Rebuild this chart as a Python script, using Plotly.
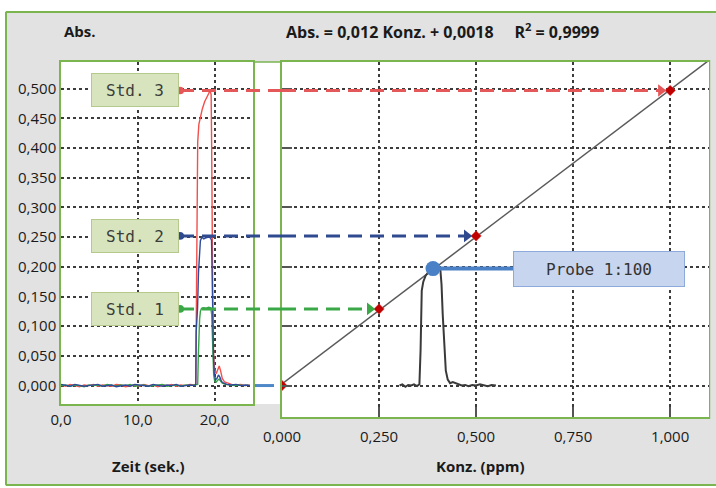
import numpy as np
import plotly.graph_objects as go

# ---------------- data ----------------
# chromatograms (time in s, absorbance)
red_t = [0.0, 0.6, 1.2, 1.8, 2.4, 3.0, 3.6, 4.2, 4.8, 5.4, 6.0, 6.6, 7.2, 7.8, 8.4, 9.0, 9.6, 10.2,
         10.8, 11.4, 12.0, 12.6, 13.2, 13.8, 14.4, 15.0, 15.6, 16.2, 16.8, 17.4,
         17.55, 17.62, 17.7, 17.8, 17.95, 18.15, 18.4, 18.7, 18.95, 19.2, 19.4, 19.55, 19.62, 19.7,
         19.78, 19.88, 20.0, 20.2, 20.4, 20.6, 20.8, 21.0, 21.3, 21.7, 22.2, 22.8, 23.4, 24.0, 24.6]
red_a = [0.001, -0.001, 0.002, 0.000, -0.002, 0.001, 0.000, 0.002, -0.001, 0.001, 0.000, -0.001,
         0.002, 0.001, -0.002, 0.000, 0.001, -0.001, 0.002, 0.000, 0.001, -0.002, 0.001, 0.000,
         0.002, -0.001, 0.001, 0.000, 0.002, 0.001,
         0.003, 0.12, 0.33, 0.41, 0.44, 0.452, 0.466, 0.478, 0.486, 0.491, 0.497, 0.490, 0.40, 0.22,
         0.10, 0.05, 0.028, 0.02, 0.027, 0.033, 0.024, 0.012, 0.006, 0.004, 0.002, 0.001, 0.002,
         0.000, 0.001]

green_t = [0.0, 0.6, 1.2, 1.8, 2.4, 3.0, 3.6, 4.2, 4.8, 5.4, 6.0, 6.6, 7.2, 7.8, 8.4, 9.0, 9.6, 10.2,
           10.8, 11.4, 12.0, 12.6, 13.2, 13.8, 14.4, 15.0, 15.6, 16.2, 16.8, 17.4,
           17.8, 17.88, 17.95, 18.05, 18.15, 18.3, 18.6, 18.9, 19.2, 19.5, 19.62, 19.7, 19.78, 19.88,
           20.0, 20.2, 20.4, 20.6, 20.8, 21.0, 21.4, 22.0, 22.6, 23.2, 23.8, 24.4]
green_a = [0.000, 0.001, -0.001, 0.001, 0.000, -0.002, 0.001, 0.000, 0.001, -0.001, 0.002, 0.000,
           -0.001, 0.001, 0.000, 0.002, -0.001, 0.000, 0.001, -0.001, 0.000, 0.001, 0.002, -0.001,
           0.000, 0.001, -0.001, 0.001, 0.000, 0.001,
           0.002, 0.05, 0.09, 0.112, 0.125, 0.13, 0.131, 0.13, 0.132, 0.131, 0.12, 0.08, 0.04, 0.018,
           0.008, 0.006, 0.009, 0.011, 0.007, 0.004, 0.002, 0.001, 0.000, 0.001, 0.000, 0.001]

blue_t = [0.0, 0.6, 1.2, 1.8, 2.4, 3.0, 3.6, 4.2, 4.8, 5.4, 6.0, 6.6, 7.2, 7.8, 8.4, 9.0, 9.6, 10.2,
          10.8, 11.4, 12.0, 12.6, 13.2, 13.8, 14.4, 15.0, 15.6, 16.2, 16.8, 17.4,
          17.55, 17.6, 17.68, 17.78, 17.9, 18.0, 18.15, 18.35, 18.6, 18.9, 19.2, 19.45, 19.6, 19.68,
          19.76, 19.85, 19.95, 20.1, 20.3, 20.5, 20.7, 20.9, 21.2, 21.6, 22.2, 22.8, 23.4, 24.0, 24.6]
blue_a = [0.002, 0.000, -0.001, 0.002, 0.001, -0.001, 0.000, 0.001, 0.002, -0.001, 0.000, 0.001,
          -0.002, 0.000, 0.001, -0.001, 0.002, 0.001, 0.000, -0.001, 0.002, 0.000, -0.001, 0.001,
          0.000, 0.002, -0.001, 0.000, 0.001, 0.000,
          0.002, 0.09, 0.105, 0.13, 0.19, 0.225, 0.244, 0.25, 0.247, 0.249, 0.25, 0.249, 0.245, 0.19,
          0.11, 0.05, 0.022, 0.01, 0.012, 0.018, 0.014, 0.007, 0.004, 0.002, 0.001, 0.002, 0.000,
          0.001, 0.000]

# calibration standards (ppm, absorbance)
std_conc = [0.0, 0.25, 0.5, 1.0]
std_abs = [0.0, 0.129, 0.252, 0.497]
std_labels = ["Std. 1", "Std. 2", "Std. 3"]
std_colors = ["#3aa846", "#2f4a8f", "#e5585a"]

# sample peak, drawn on the concentration panel
probe_x = [0.303, 0.31, 0.318, 0.325, 0.333, 0.34, 0.348, 0.354, 0.357, 0.36, 0.364, 0.37, 0.378,
           0.386, 0.395, 0.403, 0.408, 0.411, 0.414, 0.418, 0.422, 0.427, 0.433, 0.44, 0.447, 0.455,
           0.463, 0.472, 0.48, 0.49, 0.5, 0.51, 0.52, 0.53, 0.54, 0.551]
probe_y = [0.0, 0.002, -0.002, 0.001, 0.0, 0.002, -0.001, 0.002, 0.06, 0.16, 0.175, 0.185, 0.192,
           0.197, 0.2, 0.199, 0.195, 0.17, 0.12, 0.06, 0.025, 0.01, 0.004, 0.006, 0.004, 0.002,
           0.0, 0.001, -0.001, 0.001, 0.0, 0.002, 0.0, -0.001, 0.001, 0.0]
probe_conc = 0.389
probe_abs = 0.197
probe_label = "Probe 1:100"

time_ticks = [0, 10, 20]
conc_ticks = [0.0, 0.25, 0.5, 0.75, 1.0]

title_y = "Abs."
title_eq = "Abs. = 0,012 Konz. + 0,0018&nbsp;&nbsp;&nbsp;&nbsp; R<sup>2</sup> = 0,9999"
title_x1 = "Zeit (sek.)"
title_x2 = "Konz. (ppm)"

# ---------------- figure ----------------
W, H = 716, 488
GREEN = "#7ab550"
GREY_BG = "#e2e2e2"
GRID = "#3c3c3c"
TXT = "#1a1a1a"
FONT = "Open Sans, Noto Sans, sans-serif"
MONO = "DejaVu Sans Mono, monospace"
ARROW_BLUE = "#4f88c8"

def px(v):
    return v / W

def py(v):
    return 1 - v / H

fig = go.Figure()

fig.add_trace(go.Scatter(x=red_t, y=red_a, mode="lines", xaxis="x", yaxis="y",
                         line=dict(color="#f2504c", width=1.4)))
fig.add_trace(go.Scatter(x=green_t, y=green_a, mode="lines", xaxis="x", yaxis="y",
                         line=dict(color="#34a444", width=1.4)))
fig.add_trace(go.Scatter(x=blue_t, y=blue_a, mode="lines", xaxis="x", yaxis="y",
                         line=dict(color="#2f4a9c", width=1.4)))

# regression line
x2_range = [0.0, 1.1]
slope, icpt = np.polyfit(std_conc, std_abs, 1)
fit_x = np.array(x2_range)
fig.add_trace(go.Scatter(x=fit_x, y=slope * fit_x + icpt, mode="lines", xaxis="x2", yaxis="y2",
                         line=dict(color="#5a5a5a", width=1.5)))
fig.add_trace(go.Scatter(x=probe_x, y=probe_y, mode="lines", xaxis="x2", yaxis="y2",
                         line=dict(color="#3a3a3a", width=2)))
fig.add_trace(go.Scatter(x=std_conc, y=std_abs, mode="markers", xaxis="x2", yaxis="y2",
                         marker=dict(symbol="diamond", size=8, color="#c00000",
                                     line=dict(color="#e04040", width=0.5))))
fig.add_trace(go.Scatter(x=[probe_conc], y=[probe_abs], mode="markers", xaxis="x2", yaxis="y2",
                         marker=dict(size=15, color="#4a80c6")))

# arrow heads (triangles just before each target point)
head_gap = 0.024
fig.add_trace(go.Scatter(x=[c - head_gap for c in std_conc], y=std_abs, mode="markers",
                         xaxis="x2", yaxis="y2", cliponaxis=False,
                         marker=dict(symbol="triangle-right", size=11,
                                     color=[ARROW_BLUE] + std_colors, line=dict(width=0))))

shapes = []
annotations = []

# white strips outside the grey frame + frame border (top, left, bottom)
for (x0, x1, y0, y1) in [(0, W, 0, 11), (0, 5, 0, H), (0, W, 486, H)]:
    shapes.append(dict(type="rect", xref="paper", yref="paper", x0=px(x0), x1=px(x1),
                       y0=py(y1), y1=py(y0), fillcolor="white", line=dict(width=0), layer="below"))
for (x0, x1, y0, y1) in [(6, W, 12, 12), (6, 6, 12, 485), (6, W, 485, 485)]:
    shapes.append(dict(type="line", xref="paper", yref="paper", x0=px(x0), x1=px(x1),
                       y0=py(y0), y1=py(y1), line=dict(color=GREEN, width=2), layer="below"))
# grey strip to the right of the concentration panel
shapes.append(dict(type="rect", xref="paper", yref="paper", x0=px(710.2), x1=px(W),
                   y0=py(484), y1=py(13), fillcolor=GREY_BG, line=dict(width=0), layer="above"))
# white gap between the two panels
shapes.append(dict(type="rect", xref="paper", yref="paper", x0=px(253), x1=px(282),
                   y0=py(404), y1=py(62), fillcolor="white", line=dict(width=0), layer="below"))
shapes.append(dict(type="line", xref="paper", yref="paper", x0=px(253), x1=px(282),
                   y0=py(62), y1=py(62), line=dict(color=GREEN, width=1.5)))

# standards: label boxes with dashed arrows to the calibration points
for lab, col, c, a in zip(std_labels, std_colors, std_conc[1:], std_abs[1:]):
    annotations.append(dict(text=lab, xref="paper", yref="y", x=px(134.5), y=a,
                            xanchor="center", yanchor="middle",
                            showarrow=False, width=84, height=30, bgcolor="#d7e4bd",
                            bordercolor="#b5c98c", borderwidth=1, borderpad=1,
                            font=dict(family=MONO, size=16, color="#3c3c3c")))
    shapes.append(dict(type="circle", xref="paper", yref="y2", x0=px(176), x1=px(184),
                       y0=a - 0.0065, y1=a + 0.0065, fillcolor=col, line=dict(width=0)))
    shapes.append(dict(type="line", xref="paper", yref="y2", x0=px(180), x1=px(282),
                       y0=a, y1=a, line=dict(color=col, width=3, dash="14px,8px")))
    shapes.append(dict(type="line", xref="x2", yref="y2", x0=0, x1=c - head_gap,
                       y0=a, y1=a, line=dict(color=col, width=3, dash="14px,8px")))

# arrow from the time panel baseline to the origin
shapes.append(dict(type="line", xref="paper", yref="y2", x0=px(255), x1=px(274),
                   y0=std_abs[0], y1=std_abs[0], line=dict(color=ARROW_BLUE, width=3)))

# sample connector + label box
shapes.append(dict(type="line", xref="x2", yref="y2", x0=probe_conc, x1=0.7,
                   y0=probe_abs, y1=probe_abs, line=dict(color="#4a80c6", width=4)))
annotations.append(dict(text=probe_label, xref="paper", yref="y2", x=px(598.5), y=probe_abs,
                        xanchor="center", yanchor="middle",
                        showarrow=False, width=168, height=32, bgcolor="#c8d5ef",
                        bordercolor="#8eaadb", borderwidth=1, borderpad=1,
                        font=dict(family=MONO, size=16, color="#333333")))

# titles
annotations.append(dict(text="<b>" + title_y + "</b>", xref="paper", yref="paper",
                        x=px(62), y=py(31), xanchor="left", yanchor="middle", showarrow=False,
                        font=dict(family=FONT, size=15, color=TXT)))
annotations.append(dict(text="<b>" + title_eq + "</b>", xref="paper", yref="paper",
                        x=px(284), y=py(31), xanchor="left", yanchor="middle", showarrow=False,
                        font=dict(family=FONT, size=16, color=TXT)))
annotations.append(dict(text="<b>" + title_x1 + "</b>", xref="paper", yref="paper",
                        x=px(148), y=py(466), xanchor="center", yanchor="middle",
                        showarrow=False, font=dict(family=FONT, size=15, color=TXT)))
annotations.append(dict(text="<b>" + title_x2 + "</b>", xref="paper", yref="paper",
                        x=px(480), y=py(466), xanchor="center", yanchor="middle",
                        showarrow=False, font=dict(family=FONT, size=15, color=TXT)))

common = dict(showgrid=True, gridcolor=GRID, gridwidth=1.5, griddash="dot", zeroline=False,
              showline=True, mirror=True, linecolor=GREEN, linewidth=1.5, automargin=False,
              tickfont=dict(family=FONT, size=15, color=TXT))

fig.update_layout(
    width=W, height=H, margin=dict(l=0, r=0, t=0, b=0, pad=0), autosize=False,
    paper_bgcolor=GREY_BG, plot_bgcolor="white", showlegend=False,
    separators=", ",
    xaxis=dict(domain=[px(61), px(253)], range=[0, 25], tickvals=time_ticks, tickformat=".1f",
               ticks="", anchor="y", ticklabelstandoff=1, **common),
    yaxis=dict(domain=[py(404), py(62)], range=[-0.031, 0.545], tick0=0, dtick=0.05,
               tickformat=".3f", ticks="", anchor="x", **common),
    xaxis2=dict(domain=[px(282), px(709)], range=x2_range, tickvals=conc_ticks, tickformat=".3f",
                ticks="inside", ticklen=10, tickwidth=1.5, tickcolor="#555555", anchor="y2",
                ticklabelstandoff=5, **common),
    yaxis2=dict(domain=[py(417), py(62)], range=[-0.053, 0.545], tick0=0, dtick=0.1,
                showticklabels=False, ticks="inside", ticklen=10, tickwidth=1.5,
                tickcolor="#555555", anchor="x2", **common),
    shapes=shapes, annotations=annotations,
)

fig.write_html("out.html", config={"displayModeBar": False},
               post_script="document.body.style.margin='0';")
